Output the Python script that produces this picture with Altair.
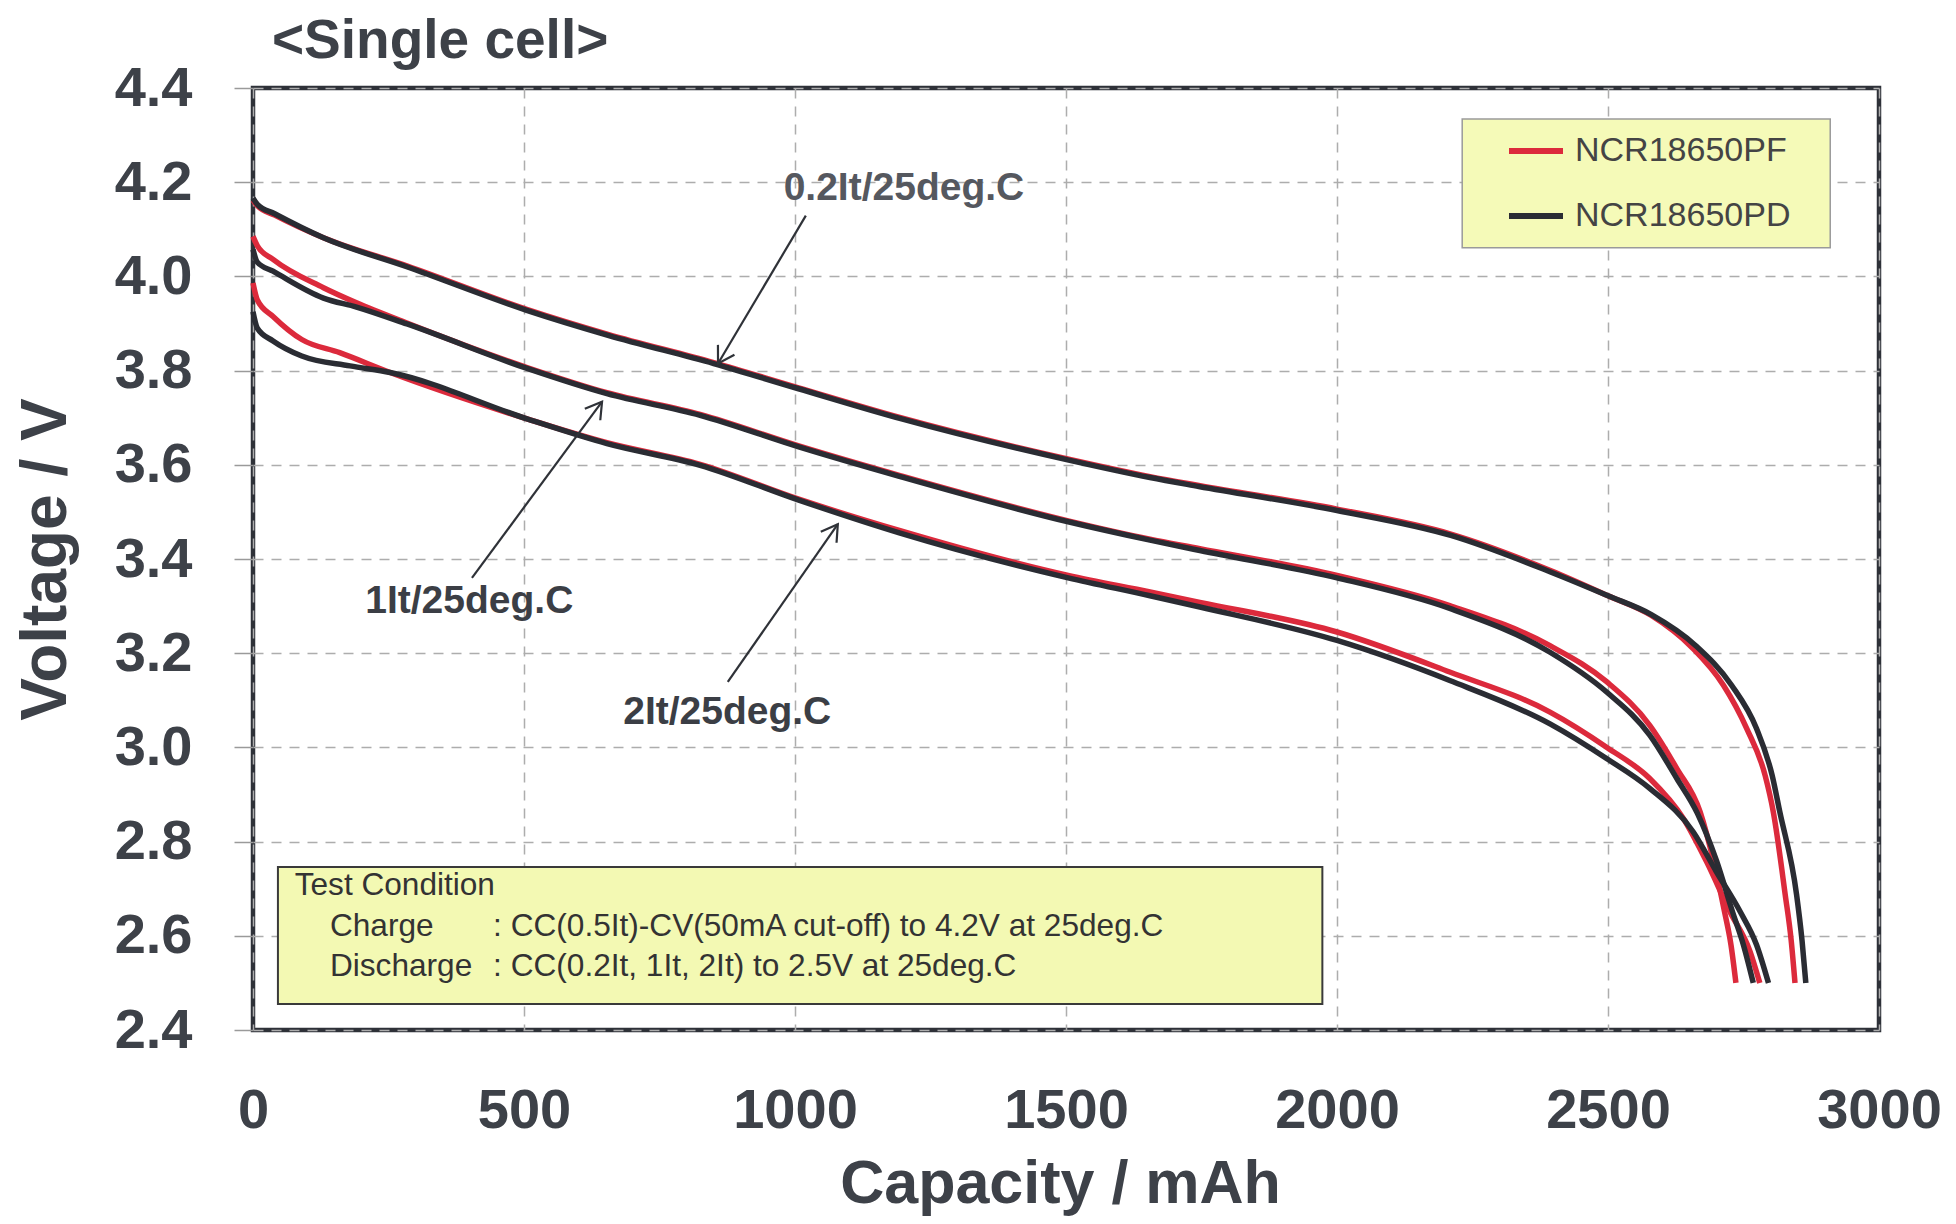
import altair as alt
import pandas as pd
import numpy as np

# ---------------- data ----------------
MODELS = ["NCR18650PF", "NCR18650PD"]
COLORS = ["#dc2a3c", "#2a2c33"]

cap_02_pf = [0, 8, 40, 130, 285, 505, 655, 850, 1005, 1195, 1505, 1655, 1745, 2000, 2210, 2395, 2500, 2580, 2655, 2713, 2756, 2790, 2805, 2827, 2838, 2845]
v_02_pf = [4.162, 4.150, 4.130, 4.082, 4.022, 3.930, 3.877, 3.817, 3.764, 3.700, 3.612, 3.575, 3.556, 3.506, 3.453, 3.375, 3.322, 3.280, 3.212, 3.132, 3.040, 2.940, 2.863, 2.687, 2.590, 2.500]

cap_02_pd = [0, 8, 40, 130, 285, 505, 655, 850, 1005, 1195, 1505, 1655, 1745, 2000, 2210, 2395, 2500, 2580, 2662, 2728, 2774, 2803, 2817, 2848, 2858, 2865]
v_02_pd = [4.166, 4.153, 4.133, 4.082, 4.020, 3.928, 3.875, 3.815, 3.762, 3.698, 3.610, 3.573, 3.554, 3.503, 3.450, 3.372, 3.322, 3.282, 3.216, 3.132, 3.040, 2.940, 2.863, 2.687, 2.590, 2.500]

cap_1_pf = [0, 8, 37, 130, 191, 284, 507, 653, 825, 1007, 1194, 1504, 1655, 1747, 2000, 2208, 2393, 2498, 2577, 2627, 2670, 2695, 2715, 2727, 2736]
v_1_pf = [4.085, 4.065, 4.036, 3.976, 3.944, 3.901, 3.806, 3.753, 3.707, 3.640, 3.577, 3.481, 3.442, 3.422, 3.365, 3.301, 3.216, 3.139, 3.047, 2.955, 2.863, 2.757, 2.651, 2.580, 2.500]

cap_1_pd = [0, 8, 37, 130, 191, 284, 507, 653, 825, 1007, 1194, 1504, 1655, 1747, 2000, 2208, 2393, 2498, 2577, 2627, 2665, 2700, 2730, 2750, 2768]
v_1_pd = [4.057, 4.030, 4.011, 3.954, 3.935, 3.899, 3.804, 3.751, 3.705, 3.638, 3.575, 3.479, 3.440, 3.418, 3.360, 3.295, 3.202, 3.117, 3.026, 2.934, 2.860, 2.760, 2.650, 2.580, 2.500]

cap_2_pf = [0, 8, 37, 90, 160, 253, 507, 653, 825, 1007, 1194, 1504, 1655, 1747, 2000, 2208, 2393, 2498, 2577, 2639, 2682, 2725, 2762, 2780]
v_2_pf = [3.986, 3.950, 3.915, 3.866, 3.838, 3.796, 3.697, 3.647, 3.601, 3.527, 3.460, 3.365, 3.330, 3.308, 3.245, 3.160, 3.075, 3.000, 2.934, 2.849, 2.757, 2.651, 2.567, 2.500]

cap_2_pd = [0, 8, 37, 90, 179, 253, 507, 653, 825, 1007, 1194, 1504, 1655, 1747, 2000, 2208, 2393, 2498, 2577, 2657, 2700, 2744, 2774, 2796]
v_2_pd = [3.925, 3.890, 3.863, 3.831, 3.810, 3.796, 3.697, 3.645, 3.599, 3.525, 3.455, 3.360, 3.322, 3.298, 3.227, 3.142, 3.050, 2.976, 2.913, 2.821, 2.736, 2.651, 2.581, 2.500]

# annotation labels and arrows (data units)
ann_text = ["0.2It/25deg.C", "1It/25deg.C", "2It/25deg.C"]
ann_x = [1201, 399, 875]
ann_y = [4.163, 3.286, 3.050]
ann_color = ["#55585f", "#3b3e45", "#3b3e45"]
arrow_x0 = [1020, 404, 876]
arrow_y0 = [4.129, 3.360, 3.139]
arrow_x1 = [858, 644, 1079]
arrow_y1 = [3.815, 3.734, 3.474]

# boxes (data units)
legend_box = {"x": [2231], "x2": [2910], "y": [4.334], "y2": [4.061]}
cond_box = {"x": [46], "x2": [1973], "y": [2.746], "y2": [2.455]}

cond_text = ["Test Condition", "Charge", "Discharge",
             ": CC(0.5It)-CV(50mA cut-off) to 4.2V at 25deg.C",
             ": CC(0.2It, 1It, 2It) to 2.5V at 25deg.C"]
cond_x = [77, 142, 142, 443, 443]
cond_y = [2.686, 2.600, 2.515, 2.600, 2.515]

chart_title = "<Single cell>"
x_ticks = [0, 500, 1000, 1500, 2000, 2500, 3000]
y_ticks = [2.4, 2.6, 2.8, 3.0, 3.2, 3.4, 3.6, 3.8, 4.0, 4.2, 4.4]

# ---------------- build tables ----------------
series = [
    ("0.2It", "NCR18650PF", cap_02_pf, v_02_pf),
    ("0.2It", "NCR18650PD", cap_02_pd, v_02_pd),
    ("1It", "NCR18650PF", cap_1_pf, v_1_pf),
    ("1It", "NCR18650PD", cap_1_pd, v_1_pd),
    ("2It", "NCR18650PF", cap_2_pf, v_2_pf),
    ("2It", "NCR18650PD", cap_2_pd, v_2_pd),
]
rows = []
for rate, model, caps, vs in series:
    for i, (c, v) in enumerate(zip(caps, vs)):
        rows.append({"rate": rate, "model": model, "cap": c, "v": v, "i": i})
df = pd.DataFrame(rows)

W, H = 1626, 942
XMAX, YMIN, YMAX = 3000, 2.4, 4.4

# arrowhead angle (screen space, clockwise from "up")
dxp = (np.array(arrow_x1) - np.array(arrow_x0)) * W / XMAX
dyp = -(np.array(arrow_y1) - np.array(arrow_y0)) * H / (YMAX - YMIN)
ang = (np.degrees(np.arctan2(dxp, -dyp)) + 360) % 360

arrows = pd.DataFrame({"x0": arrow_x0, "y0": arrow_y0, "x1": arrow_x1,
                       "y1": arrow_y1, "ang": ang})
ann = pd.DataFrame({"x": ann_x, "y": ann_y, "t": ann_text, "c": ann_color})
cond = pd.DataFrame({"x": cond_x, "y": cond_y, "t": cond_text})

FONT = "Liberation Sans"
TXT = "#3d4148"

xscale = alt.Scale(domain=[0, XMAX], nice=False, zero=False)
yscale = alt.Scale(domain=[YMIN, YMAX], nice=False, zero=False)

xaxis = alt.Axis(values=x_ticks, format="d", title="Capacity / mAh",
                 grid=True, gridDash=[10, 8], gridColor="#adadad", gridWidth=1.5,
                 domain=False, ticks=False, tickSize=0, labelPadding=53,
                 labelFont=FONT, labelFontSize=56, labelFontWeight="bold",
                 labelColor=TXT, labelFlush=False,
                 titleFont=FONT, titleFontSize=61, titleFontWeight="bold",
                 titleColor=TXT, titleBaseline="alphabetic", titleY=172,
                 titleX=W / 2 - 6, titleAlign="center")
yaxis = alt.Axis(values=y_ticks, format=".1f", title="Voltage / V",
                 grid=True, gridDash=[10, 8], gridColor="#adadad", gridWidth=1.5,
                 domain=False, ticks=True, tickSize=19, tickColor="#9a9a9a",
                 tickWidth=1.5, labelPadding=42,
                 labelFont=FONT, labelFontSize=56, labelFontWeight="bold",
                 labelColor=TXT, labelFlush=False,
                 titleFont=FONT, titleFontSize=64, titleFontWeight="bold",
                 titleColor=TXT, titleBaseline="alphabetic", titleX=-188,
                 titleY=H / 2, titleAlign="center", titleAngle=270)


def X(f):
    return alt.X(f, type="quantitative", scale=xscale, axis=xaxis)


def Y(f):
    return alt.Y(f, type="quantitative", scale=yscale, axis=yaxis)


color = alt.Color("model:N", scale=alt.Scale(domain=MODELS, range=COLORS),
                  legend=alt.Legend(title=None, orient="none", legendX=1253,
                                    legendY=33, symbolType="stroke",
                                    symbolSize=2916, symbolStrokeWidth=6,
                                    labelFontSize=34, labelFont=FONT,
                                    labelColor="#444444", rowPadding=18,
                                    labelOffset=9, padding=0, labelLimit=500))

base = alt.Chart(df)

legend_rect = alt.Chart(pd.DataFrame(legend_box)).mark_rect(
    fill="#f5fab8", stroke="#9a9a9a", strokeWidth=1.5
).encode(x=X("x"), x2="x2", y=Y("y"), y2="y2")

cond_rect = alt.Chart(pd.DataFrame(cond_box)).mark_rect(
    fill="#f3f9b3", stroke="#3a3a3a", strokeWidth=2
).encode(x=X("x"), x2="x2", y=Y("y"), y2="y2")

red_lines = base.transform_filter(alt.datum.model == "NCR18650PF").mark_line(
    strokeWidth=5.5, interpolate="monotone"
).encode(x=X("cap"), y=Y("v"), color=color, detail="rate:N", order="i:Q")

black_lines = base.transform_filter(alt.datum.model == "NCR18650PD").mark_line(
    strokeWidth=5.5, interpolate="monotone"
).encode(x=X("cap"), y=Y("v"), color=color, detail="rate:N", order="i:Q")

arrow_lines = alt.Chart(arrows).mark_rule(color="#2f3238", strokeWidth=2.2).encode(
    x=X("x0"), y=Y("y0"), x2="x1", y2="y1")

arrow_heads = alt.Chart(arrows).mark_point(
    shape="M -0.6 1 L 0 0 L 0.6 1", filled=False, stroke="#2f3238",
    strokeWidth=2.2, size=1024, opacity=1
).encode(x=X("x1"), y=Y("y1"), angle=alt.Angle("ang:Q", scale=None))

ann_labels = alt.Chart(ann).mark_text(
    font=FONT, fontSize=39, fontWeight="bold", align="center",
    baseline="alphabetic"
).encode(x=X("x"), y=Y("y"), text="t:N", color=alt.Color("c:N", scale=None))

cond_labels = alt.Chart(cond).mark_text(
    font=FONT, fontSize=31.6, align="left", baseline="alphabetic", color="#333333"
).encode(x=X("x"), y=Y("y"), text="t:N")

title_mark = alt.Chart(pd.DataFrame({"t": [chart_title]})).mark_text(
    font=FONT, fontSize=55, fontWeight="bold", align="left",
    baseline="alphabetic", color=TXT
).encode(x=alt.value(19), y=alt.value(-30), text="t:N")

chart = alt.layer(
    legend_rect, cond_rect, red_lines, black_lines, arrow_lines, arrow_heads,
    ann_labels, cond_labels, title_mark
).properties(
    width=W, height=H,
    autosize=alt.AutoSizeParams(type="none"),
    padding={"left": 245, "top": 80, "right": 69, "bottom": 186},
    background="white",
).configure_view(
    stroke="#2e3138", strokeWidth=4.5
)

chart.save("out.html", embed_options={"renderer": "svg", "actions": False})
